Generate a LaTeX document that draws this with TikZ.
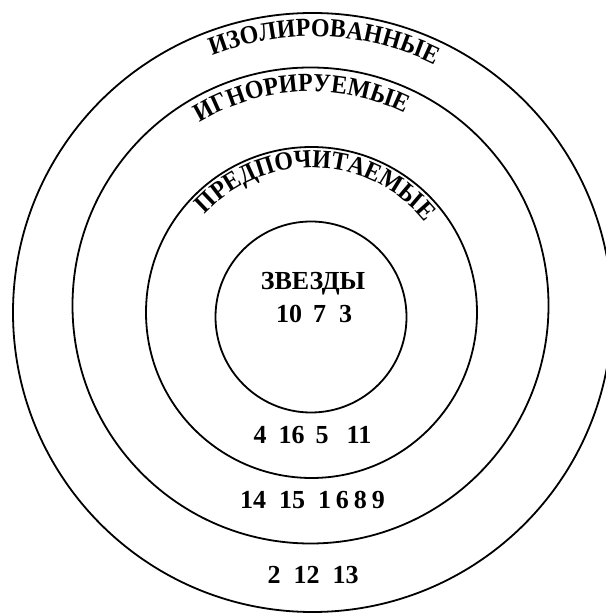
\documentclass[tikz,border=0pt]{standalone}
\usepackage{fontspec}
\setmainfont{Liberation Serif}
\newfontfamily\arcfamily[FakeStretch=0.92]{Liberation Serif}
\usepackage{tikz}
\usetikzlibrary{decorations.text}

\newcommand{\ringfont}{\bfseries\fontsize{26}{30}\selectfont}
\newcommand{\arcfont}{\arcfamily\bfseries\fontsize{26}{30}\selectfont}

\begin{document}
\begin{tikzpicture}[
    x=1pt, y=1pt,
    ring/.style={
        draw=black, line width=1.8pt
    },
    zone/.style={
        font=\ringfont, inner sep=0pt, text=black
    },
    arclabel/.style={
        decorate, decoration={text along path, text align=center, text={|\arcfont|#1}}
    }
]
\useasboundingbox (0,0) rectangle (605,613);

% Centres
\coordinate (isolated) at (312.5,300.5);
\coordinate (ignored) at (310.5,307.5);
\coordinate (preferred) at (311.5,300.5);
\coordinate (stars) at (311,296);

% Circles
\draw[ring] (isolated) circle[radius=299.5pt];
\draw[ring] (ignored) circle[radius=238pt];
\draw[ring] (preferred) circle[radius=165.5pt];
\draw[ring] (stars) circle[radius=95.5pt];

% Curved names
\path[arclabel=ИЗОЛИРОВАННЫЕ] ([shift={(147.5:276pt)}]isolated) arc[start angle=147.5, end angle=27.5, radius=276pt];
\path[arclabel=ИГНОРИРУЕМЫЕ] ([shift={(152.5:214pt)}]ignored) arc[start angle=152.5, end angle=32.5, radius=214pt];
\path[arclabel=ПРЕДПОЧИТАЕМЫЕ] ([shift={(148:145pt)}]preferred) arc[start angle=148, end angle=28, radius=145pt];

% Members
\node[zone] (starsname) at (313,329) {ЗВЕЗДЫ};
\node[zone] (starsnum) at (314,299) {10\hspace{11pt}7\hspace{13pt}3};
\node[zone] (prefnum) at (312.5,178) {4\hspace{12pt}16\hspace{11pt}5\hspace{18pt}11};
\node[zone] (ignnum) at (312.5,113) {14\hspace{13pt}15\hspace{13pt}1\hspace{5pt}6\hspace{5pt}8\hspace{5pt}9};
\node[zone] (isonum) at (313,38) {2\hspace{13pt}12\hspace{13pt}13};

\end{tikzpicture}
\end{document}
